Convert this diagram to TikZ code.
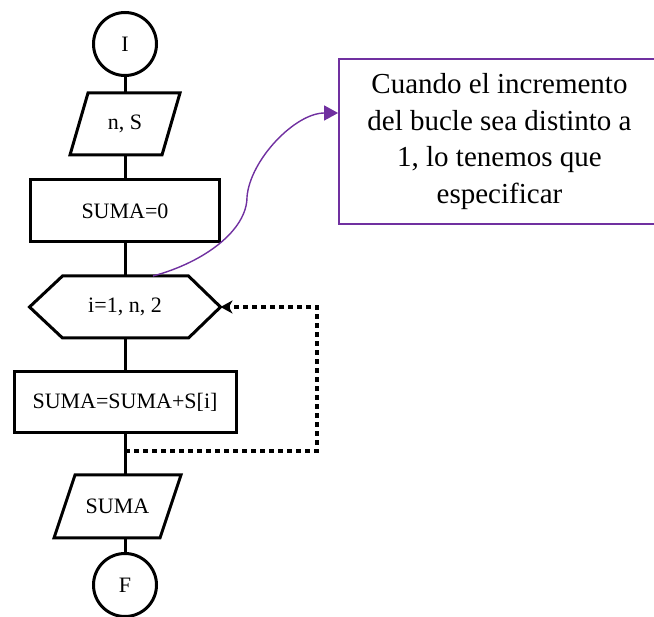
\documentclass[tikz,border=0pt]{standalone}
\usepackage{fontspec}
\setmainfont{Liberation Serif}
\usetikzlibrary{arrows.meta}
\definecolor{notepurple}{RGB}{112,48,160}
\tikzset{
  flowtext/.style={inner sep=0pt, outer sep=0pt, align=center,
    font=\fontsize{22}{26}\selectfont},
  frame/.style={draw, line width=3pt, line join=miter},
  rectbox/.style={flowtext, frame},
  roundbox/.style={flowtext, frame, circle, minimum size=63pt},
  outline/.style={flowtext},
  link/.style={line width=3pt},
  loopback/.style={line width=3.4pt, dash pattern=on 5pt off 4pt,
    -{Stealth[length=12pt,width=13pt,inset=3.5pt]}},
  notebox/.style={draw=notepurple, line width=1.8pt, inner sep=0pt,
    align=center, font=\fontsize{29}{36.5}\selectfont},
  notearrow/.style={draw=notepurple, line width=1.4pt,
    -{Triangle[length=14pt,width=15pt,color=notepurple]}}
}
\begin{document}
\begin{tikzpicture}[x=1pt, y=-1pt]
\useasboundingbox (0,0) rectangle (654,617);
\clip (0,0) rectangle (654,617);

% start / end terminals
\node[roundbox] (start) at (125,44) {I};
\node[roundbox] (stop) at (125,585) {F};

% input data
\node[outline, minimum width=110pt, minimum height=62pt] (input) at (125,124) {n, S};
\draw[frame] ([xshift=18pt]input.north west) -- (input.north east)
  -- ([xshift=-18pt]input.south east) -- (input.south west) -- cycle;

% initialisation
\node[rectbox, minimum width=189pt, minimum height=62pt] (init) at (125,211) {SUMA=0};

% loop header (hexagon)
\node[outline, minimum width=191pt, minimum height=62pt] (loop) at (125,307) {i=1, n, 2};
\draw[frame] (loop.west) -- ([xshift=33pt]loop.north west)
  -- ([xshift=-32pt]loop.north east) -- (loop.east)
  -- ([xshift=-32pt]loop.south east) -- ([xshift=33pt]loop.south west) -- cycle;

% loop body
\node[rectbox, minimum width=222pt, minimum height=61pt] (body) at (125,402.5) {SUMA=SUMA+S[i]};

% output
\node[outline, minimum width=127pt, minimum height=63pt] (output) at (117.5,506.5) {SUMA};
\draw[frame] ([xshift=21pt]output.north west) -- (output.north east)
  -- ([xshift=-21pt]output.south east) -- (output.south west) -- cycle;

% main flow
\draw[link] (start) -- (input);
\draw[link] (input) -- (init);
\draw[link] (init) -- (loop);
\draw[link] (loop) -- (body);
\draw[link] (body.south) -- (body.south |- output.north);
\draw[link] (stop.north |- output.south) -- (stop);

% return of the loop
\coordinate (ret) at (125,451);
\coordinate (turn) at (317,451);
\draw[loopback] (ret) -- (turn) |- (loop.east);

% annotation
\node[notebox, minimum width=321pt, minimum height=165pt] (note) at (499.5,141.5)
  {Cuando el incremento\\del bucle sea distinto a\\1, lo tenemos que\\especificar};
\coordinate (from) at ([xshift=28pt]loop.north);
\coordinate (tip) at ([yshift=28.5pt]note.west);
\draw[notearrow] (from) .. controls (205,262) and (247,230) .. (247,197)
  .. controls (250,160) and (295,113) .. (tip);
\end{tikzpicture}
\end{document}
